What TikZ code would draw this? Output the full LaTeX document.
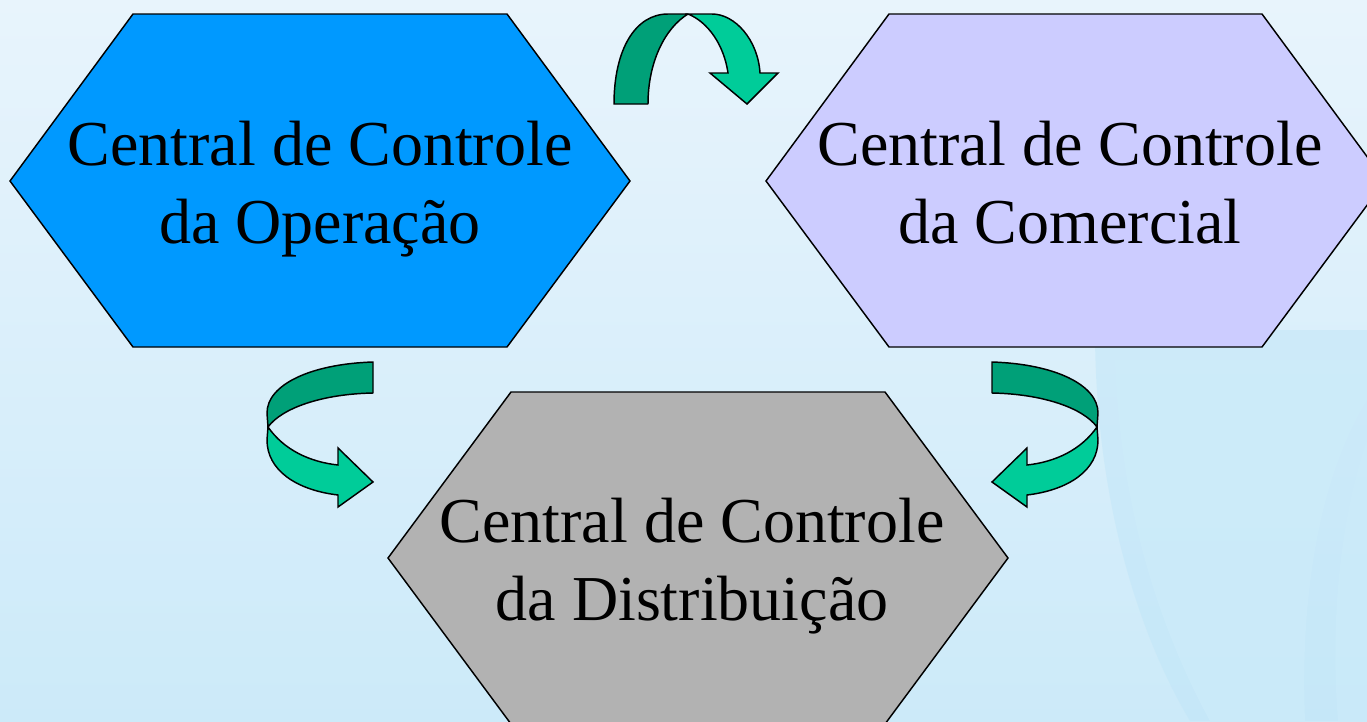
\documentclass[tikz,border=0pt]{standalone}
\usepackage{fontspec}
\setmainfont{Liberation Serif}
\begin{document}
\begin{tikzpicture}[x=0.75pt,y=-0.75pt,
  hexa/.style={draw=black,line width=1.1pt,line join=miter},
  arrdark/.style={draw=black,line width=1.1pt,fill=arrowdark,line join=round},
  arrlight/.style={draw=black,line width=1.1pt,fill=arrowlight,line join=miter},
  lbl/.style={font=\fontsize{48}{58.5}\selectfont,align=center,inner sep=0pt,anchor=base,text=black}]
\definecolor{bgtop}{RGB}{232,244,252}
\definecolor{bgbot}{RGB}{204,234,249}
\definecolor{bgblob}{RGB}{190,229,248}
\definecolor{bglight}{RGB}{205,236,250}
\definecolor{hexblue}{RGB}{0,153,255}
\definecolor{hexlav}{RGB}{204,204,255}
\definecolor{hexgray}{RGB}{178,178,178}
\definecolor{arrowdark}{RGB}{0,160,120}
\definecolor{arrowlight}{RGB}{0,204,153}
\useasboundingbox (0,0) rectangle (1367,721);
\clip (0,0) rectangle (1367,721);
% background
\shade[top color=bgtop,bottom color=bgbot] (0,0) rectangle (1367,721);
\fill[bgblob,opacity=0.45] (1095,330) .. controls (1095,480) and (1130,620) .. (1190,721) -- (1367,721) -- (1367,330) -- cycle;
\fill[bglight,opacity=0.7] (1115,360) .. controls (1120,500) and (1155,620) .. (1210,721) -- (1305,721) .. controls (1300,600) and (1318,480) .. (1367,400) -- (1367,360) -- cycle;
\fill[bglight,opacity=0.5] (1367,440) .. controls (1340,520) and (1330,620) .. (1338,721) -- (1367,721) -- cycle;
% hexagons
\draw[hexa,fill=hexblue] (10,181) -- (133,14) -- (507,14) -- (630,181) -- (507,347) -- (133,347) -- cycle;
\draw[hexa,fill=hexlav] (766,181) -- (889,14) -- (1262,14) -- (1385,181) -- (1262,347) -- (889,347) -- cycle;
\draw[hexa,fill=hexgray] (388,558) -- (511,392) -- (885,392) -- (1008,558) -- (885,724) -- (511,724) -- cycle;
\node[lbl] (op) at (320,243) {Central de Controle\\da Operação};
\node[lbl] (com) at (1070,243) {Central de Controle\\da Comercial};
\node[lbl] (dist) at (692,620) {Central de Controle\\da Distribuição};
% top arrow
\draw[arrdark] (614,104) .. controls (614,50) and (635,14) .. (668,14) -- (688,14) .. controls (665,28) and (648,62) .. (648,104) -- cycle;
\draw[arrlight] (688,14) -- (712,14) .. controls (735,14) and (758,40) .. (760,73) -- (778,73) -- (747,104) -- (710,73) -- (728,73) .. controls (724,45) and (708,22) .. (688,14) -- cycle;
% left arrow
\draw[arrdark] (373,362) .. controls (310,364) and (267,385) .. (267,413) -- (268,427) .. controls (282,408) and (322,394) .. (373,393) -- cycle;
\draw[arrlight] (268,427) .. controls (284,450) and (310,462) .. (338,465) -- (338,448) -- (373,482) -- (338,507) -- (338,495) .. controls (296,490) and (267,470) .. (267,440) -- cycle;
% right arrow (mirror)
\begin{scope}[xshift=1365*0.75pt,xscale=-1]
\draw[arrdark] (373,362) .. controls (310,364) and (267,385) .. (267,413) -- (268,427) .. controls (282,408) and (322,394) .. (373,393) -- cycle;
\draw[arrlight] (268,427) .. controls (284,450) and (310,462) .. (338,465) -- (338,448) -- (373,482) -- (338,507) -- (338,495) .. controls (296,490) and (267,470) .. (267,440) -- cycle;
\end{scope}
\end{tikzpicture}
\end{document}
